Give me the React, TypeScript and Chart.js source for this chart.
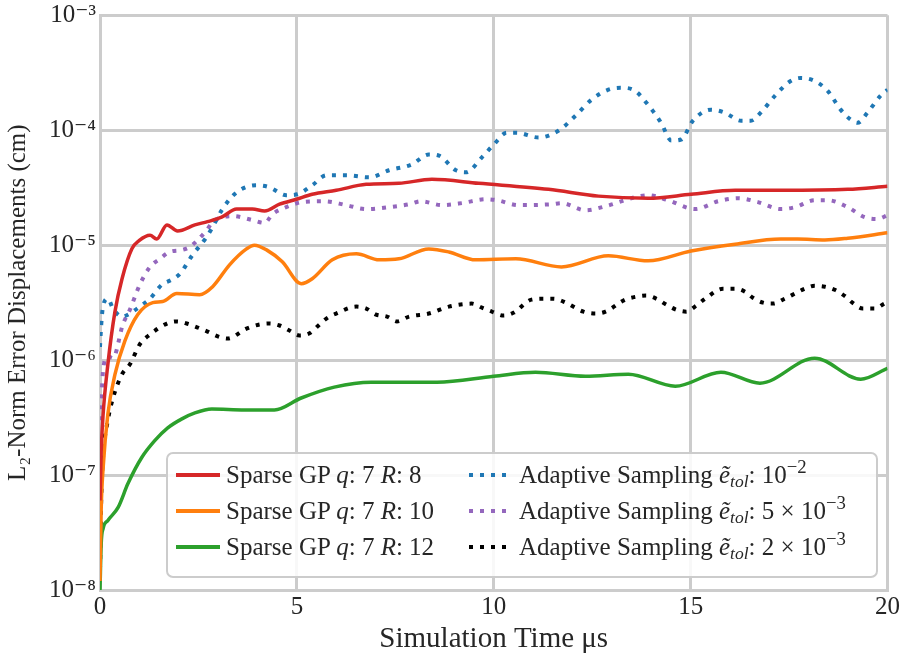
import React, { useEffect, useRef } from "react";
import { Chart, registerables } from "chart.js";

Chart.register(...registerables);

// ---- data (x: simulation time in µs, y: L2-norm error in cm) ----
const redT = [0, 0.03, 0.08, 0.2, 0.38, 0.56, 0.81, 1.0, 1.27, 1.44, 1.7, 1.97, 2.41, 2.73, 3.09, 3.47, 3.87, 4.18, 4.56, 4.99, 5.39, 6.0, 6.76, 7.59, 8.43, 9.62, 11.39, 12.66, 13.92, 15.01, 16.13, 17.29, 18.99, 20];
const redV = [6e-8, 1.6e-7, 3.4e-7, 9.2e-7, 2.64e-6, 5.1e-6, 9.3e-6, 1.1e-5, 1.22e-5, 1.13e-5, 1.5e-5, 1.33e-5, 1.5e-5, 1.6e-5, 1.75e-5, 2.06e-5, 2.06e-5, 1.98e-5, 2.27e-5, 2.51e-5, 2.77e-5, 3.0e-5, 3.38e-5, 3.45e-5, 3.74e-5, 3.45e-5, 3.06e-5, 2.67e-5, 2.56e-5, 2.77e-5, 3.0e-5, 3.0e-5, 3.06e-5, 3.25e-5];

const orangeT = [0, 0.03, 0.08, 0.2, 0.38, 0.63, 0.96, 1.34, 1.59, 1.95, 2.53, 2.86, 3.29, 3.72, 3.92, 4.23, 4.63, 5.11, 5.39, 5.9, 6.51, 7.09, 7.59, 8.35, 8.86, 9.54, 10.56, 11.72, 12.91, 13.92, 15.01, 16.13, 17.29, 17.72, 18.41, 18.99, 20];
const orangeV = [1.2e-8, 5e-8, 1.16e-7, 3.4e-7, 7.5e-7, 1.46e-6, 2.49e-6, 3.16e-6, 3.23e-6, 3.79e-6, 3.71e-6, 4.35e-6, 6.74e-6, 9.27e-6, 1.0e-5, 9.1e-6, 7.16e-6, 4.62e-6, 5.1e-6, 7.45e-6, 8.4e-6, 7.45e-6, 7.6e-6, 9.27e-6, 8.73e-6, 7.45e-6, 7.6e-6, 6.47e-6, 8.07e-6, 7.3e-6, 8.9e-6, 1.02e-5, 1.13e-5, 1.13e-5, 1.11e-5, 1.15e-5, 1.28e-5];

const greenT = [0, 0.03, 0.08, 0.2, 0.46, 0.71, 1.06, 1.39, 1.72, 2.08, 2.41, 2.84, 3.67, 4.43, 5.11, 5.95, 6.89, 8.56, 10.0, 11.06, 12.33, 13.42, 14.61, 15.77, 16.76, 18.15, 19.32, 20];
const greenV = [1e-8, 2.5e-8, 3.44e-8, 4.03e-8, 5.23e-8, 8.43e-8, 1.42e-7, 1.99e-7, 2.57e-7, 3.08e-7, 3.47e-7, 3.75e-7, 3.68e-7, 3.68e-7, 4.68e-7, 5.82e-7, 6.43e-7, 6.43e-7, 7.24e-7, 7.84e-7, 7.24e-7, 7.53e-7, 5.93e-7, 7.84e-7, 6.3e-7, 1.04e-6, 6.83e-7, 8.49e-7];

const blueT = [0, 0.03, 0.076, 0.2, 0.33, 0.56, 0.76, 1.01, 1.27, 1.57, 1.82, 2.03, 2.35, 2.71, 2.86, 3.11, 3.47, 3.97, 4.3, 4.73, 5.01, 5.39, 5.75, 6.25, 6.84, 7.34, 7.92, 8.35, 8.61, 9.04, 9.29, 9.7, 10.0, 10.33, 10.58, 11.14, 11.65, 12.08, 12.48, 12.91, 13.22, 13.59, 13.92, 14.25, 14.51, 14.76, 15.06, 15.52, 15.87, 16.28, 16.53, 16.78, 17.14, 17.54, 17.8, 18.15, 18.48, 18.81, 19.06, 19.24, 19.49, 19.82, 20];
const blueV = [1.3e-6, 2e-6, 2.92e-6, 3.42e-6, 2.81e-6, 2.39e-6, 2.54e-6, 2.92e-6, 3.42e-6, 4.53e-6, 5.0e-6, 5.64e-6, 8.22e-6, 1.18e-5, 1.44e-5, 2.06e-5, 2.88e-5, 3.32e-5, 3.19e-5, 2.72e-5, 2.77e-5, 3.32e-5, 4.05e-5, 4.05e-5, 3.89e-5, 4.48e-5, 5.04e-5, 6.15e-5, 6.0e-5, 4.48e-5, 4.3e-5, 5.8e-5, 7.5e-5, 9.5e-5, 9.5e-5, 8.63e-5, 9.93e-5, 1.34e-4, 1.84e-4, 2.25e-4, 2.34e-4, 2.2e-4, 1.66e-4, 1.16e-4, 8.13e-5, 8.3e-5, 1.21e-4, 1.51e-4, 1.42e-4, 1.21e-4, 1.21e-4, 1.42e-4, 1.99e-4, 2.68e-4, 2.85e-4, 2.68e-4, 2.2e-4, 1.51e-4, 1.24e-4, 1.16e-4, 1.42e-4, 1.99e-4, 2.25e-4];

const purpleT = [0, 0.05, 0.076, 0.2, 0.33, 0.58, 0.76, 1.01, 1.27, 1.52, 1.77, 2.08, 2.28, 2.48, 2.71, 2.86, 3.11, 3.37, 3.87, 4.18, 4.38, 4.73, 5.14, 5.7, 6.25, 6.76, 7.34, 7.85, 8.15, 8.68, 9.19, 9.8, 10.08, 10.63, 11.47, 11.72, 12.33, 12.84, 13.59, 13.92, 14.43, 15.11, 15.7, 16.2, 16.71, 17.29, 17.65, 18.15, 18.48, 18.99, 19.42, 19.75, 20];
const purpleV = [3e-7, 5.7e-7, 8.0e-7, 1.08e-6, 1.04e-6, 2.04e-6, 2.75e-6, 4.53e-6, 6.47e-6, 7.6e-6, 8.73e-6, 9.08e-6, 9.64e-6, 1.11e-5, 1.35e-5, 1.59e-5, 1.75e-5, 1.79e-5, 1.65e-5, 1.56e-5, 1.86e-5, 2.14e-5, 2.37e-5, 2.41e-5, 2.23e-5, 2.06e-5, 2.14e-5, 2.27e-5, 2.41e-5, 2.23e-5, 2.32e-5, 2.51e-5, 2.46e-5, 2.23e-5, 2.27e-5, 2.32e-5, 2.01e-5, 2.18e-5, 2.61e-5, 2.72e-5, 2.46e-5, 2.06e-5, 2.41e-5, 2.56e-5, 2.37e-5, 2.06e-5, 2.14e-5, 2.46e-5, 2.46e-5, 2.14e-5, 1.75e-5, 1.69e-5, 1.82e-5];

const blackT = [0, 0.03, 0.076, 0.2, 0.33, 0.56, 0.76, 1.01, 1.27, 1.7, 1.95, 2.2, 2.73, 2.99, 3.24, 3.72, 4.05, 4.3, 4.56, 4.81, 5.06, 5.32, 5.52, 5.75, 6.0, 6.51, 6.76, 7.01, 7.29, 7.54, 7.85, 8.35, 8.86, 9.44, 9.7, 9.95, 10.25, 10.51, 10.96, 11.27, 11.52, 11.77, 12.28, 12.58, 12.84, 13.34, 13.62, 13.87, 14.13, 14.38, 14.63, 14.89, 15.11, 15.37, 15.82, 16.13, 16.38, 16.58, 16.84, 17.09, 17.39, 17.65, 17.9, 18.15, 18.41, 18.66, 18.94, 19.11, 19.37, 19.67, 19.92];
const blackV = [1.5e-8, 6e-8, 1.42e-7, 3.0e-7, 4.68e-7, 7.53e-7, 9.2e-7, 1.37e-6, 1.67e-6, 2.08e-6, 2.17e-6, 2.08e-6, 1.77e-6, 1.61e-6, 1.54e-6, 1.88e-6, 2.04e-6, 2.08e-6, 2.0e-6, 1.81e-6, 1.64e-6, 1.71e-6, 1.96e-6, 2.3e-6, 2.54e-6, 2.92e-6, 2.81e-6, 2.49e-6, 2.39e-6, 2.17e-6, 2.39e-6, 2.54e-6, 2.92e-6, 3.1e-6, 2.86e-6, 2.64e-6, 2.44e-6, 2.59e-6, 3.36e-6, 3.42e-6, 3.42e-6, 3.23e-6, 2.64e-6, 2.54e-6, 2.64e-6, 3.36e-6, 3.56e-6, 3.64e-6, 3.42e-6, 3.04e-6, 2.75e-6, 2.64e-6, 2.92e-6, 3.42e-6, 4.18e-6, 4.18e-6, 3.94e-6, 3.49e-6, 3.16e-6, 3.1e-6, 3.42e-6, 3.79e-6, 4.18e-6, 4.43e-6, 4.35e-6, 4.09e-6, 3.56e-6, 3.16e-6, 2.81e-6, 2.81e-6, 3.1e-6];

const xTickValues = [0, 5, 10, 15, 20];
const yTickValues = [1e-8, 1e-7, 1e-6, 1e-5, 1e-4, 1e-3];
const yTickLabels = ["10⁻⁸", "10⁻⁷", "10⁻⁶", "10⁻⁵", "10⁻⁴", "10⁻³"];

const xAxisTitle = "Simulation Time μs";
const yAxisTitle = "L₂-Norm Error Displacements (cm)";

const SERIF = "'Liberation Serif', 'DejaVu Serif', serif";
const TEXT = "#262626";
const GRID = "#cccccc";

const COLORS = {
  red: "#d62728",
  orange: "#ff7f0e",
  green: "#2ca02c",
  blue: "#1f77b4",
  purple: "#9467bd",
  black: "#000000",
};

function pts(t: number[], v: number[]) {
  return t.map((x, i) => ({ x, y: v[i] }));
}

function solid(label: string, color: string, t: number[], v: number[]) {
  return {
    label,
    data: pts(t, v),
    borderColor: color,
    backgroundColor: color,
    borderWidth: 3.5,
    pointRadius: 0,
    fill: false,
    cubicInterpolationMode: "monotone" as const,
  };
}

function dotted(label: string, color: string, t: number[], v: number[]) {
  return {
    label,
    data: pts(t, v),
    borderColor: color,
    backgroundColor: color,
    borderWidth: 4,
    borderDash: [4, 7],
    borderCapStyle: "butt" as const,
    pointRadius: 0,
    fill: false,
    cubicInterpolationMode: "monotone" as const,
  };
}

function Sample({ color, dash }: { color: string; dash: boolean }) {
  return (
    <svg width={44} height={8} style={{ position: "absolute", left: 0, top: 13 }}>
      <line
        x1={0}
        y1={4}
        x2={44}
        y2={4}
        stroke={color}
        strokeWidth={4}
        strokeDasharray={dash ? "4 7" : undefined}
        strokeLinecap="butt"
      />
    </svg>
  );
}

const subStyle: React.CSSProperties = { fontSize: "0.7em", verticalAlign: "-0.25em", lineHeight: 0 };
const supStyle: React.CSSProperties = { fontSize: "0.75em", verticalAlign: "0.55em", lineHeight: 0 };

function Etol() {
  return (
    <>
      <i>ẽ</i>
      <span style={subStyle}>
        <i>tol</i>
      </span>
      :
    </>
  );
}

function LegendRow({ top, left, color, dash, children }: { top: number; left: number; color: string; dash: boolean; children: React.ReactNode }) {
  return (
    <div style={{ position: "absolute", top, left, height: 34 }}>
      <Sample color={color} dash={dash} />
      <div style={{ position: "absolute", left: 50, top: 0, height: 34, lineHeight: "34px", whiteSpace: "nowrap" }}>{children}</div>
    </div>
  );
}

function Legend() {
  const rows = [4, 40, 76];
  return (
    <div
      style={{
        position: "absolute",
        left: 166,
        top: 452,
        width: 712,
        height: 126,
        boxSizing: "border-box",
        border: `2px solid ${GRID}`,
        borderRadius: 7,
        background: "rgba(255,255,255,0.85)",
        fontFamily: SERIF,
        fontSize: 25,
        color: TEXT,
      }}
    >
      <LegendRow top={rows[0]} left={8} color={COLORS.red} dash={false}>
        Sparse GP <i>q</i>: 7 <i>R</i>: 8
      </LegendRow>
      <LegendRow top={rows[1]} left={8} color={COLORS.orange} dash={false}>
        Sparse GP <i>q</i>: 7 <i>R</i>: 10
      </LegendRow>
      <LegendRow top={rows[2]} left={8} color={COLORS.green} dash={false}>
        Sparse GP <i>q</i>: 7 <i>R</i>: 12
      </LegendRow>
      <LegendRow top={rows[0]} left={301} color={COLORS.blue} dash={true}>
        Adaptive Sampling <Etol /> 10<span style={supStyle}>−2</span>
      </LegendRow>
      <LegendRow top={rows[1]} left={301} color={COLORS.purple} dash={true}>
        Adaptive Sampling <Etol /> 5 × 10<span style={supStyle}>−3</span>
      </LegendRow>
      <LegendRow top={rows[2]} left={301} color={COLORS.black} dash={true}>
        Adaptive Sampling <Etol /> 2 × 10<span style={supStyle}>−3</span>
      </LegendRow>
    </div>
  );
}

export default function App() {
  const canvasRef = useRef<HTMLCanvasElement | null>(null);

  useEffect(() => {
    const canvas = canvasRef.current;
    if (!canvas) return;
    const chart = new Chart(canvas, {
      type: "line",
      data: {
        datasets: [
          solid("Sparse GP q: 7 R: 8", COLORS.red, redT, redV),
          solid("Sparse GP q: 7 R: 10", COLORS.orange, orangeT, orangeV),
          solid("Sparse GP q: 7 R: 12", COLORS.green, greenT, greenV),
          dotted("Adaptive Sampling ẽtol: 10⁻²", COLORS.blue, blueT, blueV),
          dotted("Adaptive Sampling ẽtol: 5 × 10⁻³", COLORS.purple, purpleT, purpleV),
          dotted("Adaptive Sampling ẽtol: 2 × 10⁻³", COLORS.black, blackT, blackV),
        ] as any,
      },
      options: {
        animation: false,
        responsive: false,
        devicePixelRatio: 1,
        layout: { padding: { left: 0, right: 8, top: 6, bottom: 0 } },
        plugins: {
          legend: { display: false },
          tooltip: { enabled: false },
        },
        scales: {
          x: {
            type: "linear",
            min: 0,
            max: 20,
            afterBuildTicks: (axis: any) => {
              axis.ticks = xTickValues.map((v) => ({ value: v }));
            },
            afterFit: (axis: any) => {
              axis.height = 71;
            },
            ticks: {
              padding: 5,
              color: TEXT,
              font: { family: SERIF, size: 25, lineHeight: 1 },
              maxRotation: 0,
              callback: (v: any) => String(v),
            },
            grid: { color: GRID, lineWidth: 3, drawTicks: false },
            border: { color: GRID, width: 3 },
            title: {
              display: true,
              text: xAxisTitle,
              color: TEXT,
              font: { family: SERIF, size: 29, lineHeight: 1 },
              padding: { top: 0, bottom: 7 },
            },
          },
          y: {
            type: "logarithmic",
            min: 1e-8,
            max: 1e-3,
            afterBuildTicks: (axis: any) => {
              axis.ticks = yTickValues.map((v) => ({ value: v }));
            },
            afterFit: (axis: any) => {
              axis.width = 100;
            },
            ticks: {
              padding: 4,
              color: TEXT,
              font: { family: SERIF, size: 25, lineHeight: 0.9 },
              callback: (_v: any, i: number) => yTickLabels[i],
            },
            grid: { color: GRID, lineWidth: 3, drawTicks: false },
            border: { color: GRID, width: 3 },
            title: {
              display: true,
              text: yAxisTitle,
              color: TEXT,
              font: { family: SERIF, size: 25, lineHeight: 1 },
              padding: { top: 6, bottom: 0 },
            },
          },
        },
      } as any,
    });
    return () => chart.destroy();
  }, []);

  return (
    <div style={{ position: "absolute", left: 0, top: 0, width: 905, height: 661, background: "#fff" }}>
      <canvas ref={canvasRef} width={905} height={661} style={{ display: "block", width: 905, height: 661 }} />
      <Legend />
    </div>
  );
}
